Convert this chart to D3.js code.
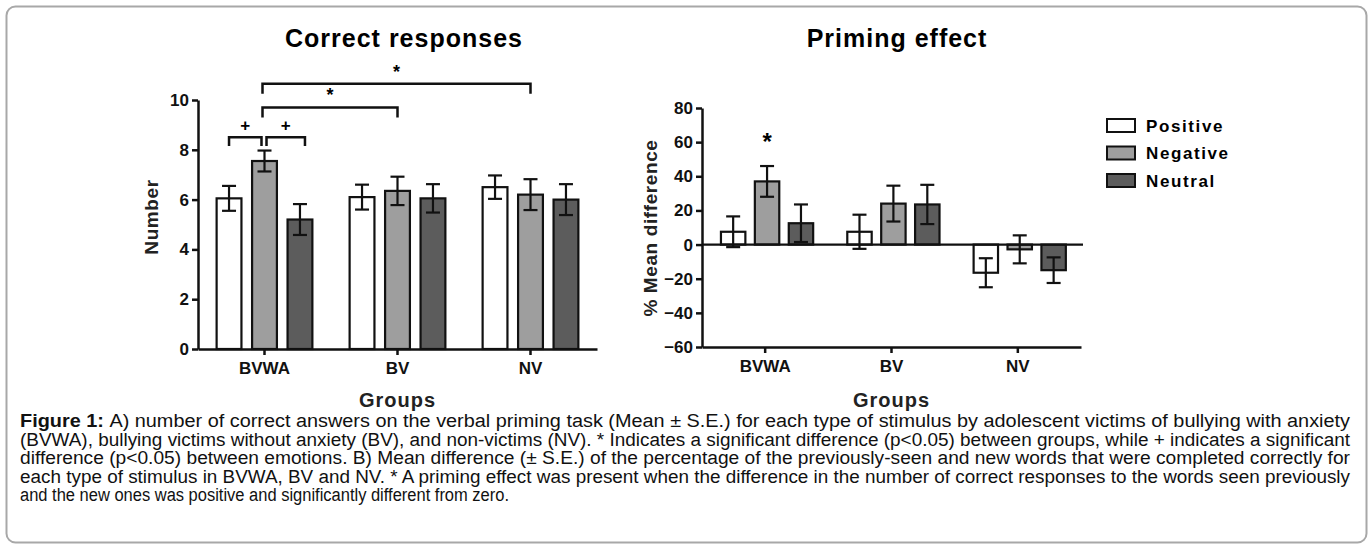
<!DOCTYPE html>
<html>
<head>
<meta charset="utf-8">
<script src="https://cdn.jsdelivr.net/npm/d3@7"></script>
<style>
  html, body { margin: 0; padding: 0; background: #fff; }
  svg { display: block; }
  .axis path, .axis line { stroke: #111; stroke-width: 2.5px; }
  .axis text { font-family: "Liberation Sans", Arial, sans-serif; font-weight: bold; font-size: 17px; fill: #111; }
  .caption { font-family: "Liberation Sans Narrow", "Arial Narrow", "Liberation Sans", Arial, sans-serif; font-size: 18px; fill: #111; }
</style>
</head>
<body>
<svg id="fig" width="1370" height="545"></svg>
<script>
  // groups and emotion series
  var groups = ["BVWA", "BV", "NV"];
  var series = ["Positive", "Negative", "Neutral"];
  var fills = ["#ffffff", "#9e9e9e", "#5c5c5c"];

  // Correct responses (Mean, S.E.) per group, one array per series
  var correctPositive = [6.05, 6.1, 6.5];
  var correctNegative = [7.55, 6.35, 6.2];
  var correctNeutral  = [5.2, 6.05, 6.0];
  var correctPositiveSE = [0.5, 0.5, 0.47];
  var correctNegativeSE = [0.42, 0.57, 0.62];
  var correctNeutralSE  = [0.62, 0.57, 0.62];
  var correctTicks = [0, 2, 4, 6, 8, 10];

  // Priming effect (% mean difference, S.E.)
  var primingPositive = [7.5, 7.5, -16.5];
  var primingNegative = [37, 24, -2.8];
  var primingNeutral  = [12.5, 23.5, -15];
  var primingPositiveSE = [9, 10, 8.5];
  var primingNegativeSE = [9, 10.5, 8.2];
  var primingNeutralSE  = [11, 11.5, 7.5];
  var primingTicks = [-60, -40, -20, 0, 20, 40, 60, 80];

  // significance brackets in left panel: [group, series] -> [group, series]
  var brackets = [
    {from: [0, 0], to: [0, 1], level: 8.5,  drop: 0.35, label: "+", dx1: 0,  dx2: -3},
    {from: [0, 1], to: [0, 2], level: 8.5,  drop: 0.35, label: "+", dx1: 2,  dx2: 5},
    {from: [0, 1], to: [1, 1], level: 9.7,  drop: 0.4,  label: "*", dx1: -2, dx2: 0},
    {from: [0, 1], to: [2, 1], level: 10.65, drop: 0.4, label: "*", dx1: -2, dx2: 0}
  ];

  var captionLines = [
    "A) number of correct answers on the verbal priming task (Mean ± S.E.) for each type of stimulus by adolescent victims of bullying with anxiety",
    "(BVWA), bullying victims without anxiety (BV), and non-victims (NV). * Indicates a significant difference (p<0.05) between groups, while + indicates a significant",
    "difference (p<0.05) between emotions. B) Mean difference (± S.E.) of the percentage of the previously-seen and new words that were completed correctly for",
    "each type of stimulus in BVWA, BV and NV. * A priming effect was present when the difference in the number of correct responses to the words seen previously",
    "and the new ones was positive and significantly different from zero."
  ];

  var svg = d3.select("#fig");
  var font = "'Liberation Sans', Arial, sans-serif";

  // outer frame
  svg.append("rect")
    .attr("x", 6.5).attr("y", 6.5).attr("width", 1360).attr("height", 536)
    .attr("rx", 9).attr("fill", "none").attr("stroke", "#a8a8a8").attr("stroke-width", 2);

  function toRows(a, b, c, sa, sb, sc) {
    return groups.map(function(g, i) {
      return {group: g, values: [
        {s: series[0], v: a[i], se: sa[i], k: 0},
        {s: series[1], v: b[i], se: sb[i], k: 1},
        {s: series[2], v: c[i], se: sc[i], k: 2}
      ]};
    });
  }

  function drawPanel(opt) {
    var x0 = d3.scaleBand().domain(groups).range(opt.xRange);
    var x1 = d3.scaleBand().domain(series)
      .range([x0.bandwidth() * opt.inner[0], x0.bandwidth() * opt.inner[1]])
      .paddingInner(opt.pad);
    var y = d3.scaleLinear().domain(opt.yDomain).range(opt.yRange);
    var g = svg.append("g");

    var grp = g.selectAll(".grp").data(opt.rows).enter().append("g")
      .attr("transform", function(d) { return "translate(" + x0(d.group) + ",0)"; });

    grp.selectAll("rect").data(function(d) { return d.values; }).enter().append("rect")
      .attr("x", function(d) { return x1(d.s); })
      .attr("y", function(d) { return y(Math.max(0, d.v)); })
      .attr("width", x1.bandwidth())
      .attr("height", function(d) { return Math.abs(y(d.v) - y(0)); })
      .attr("fill", function(d) { return fills[d.k]; })
      .attr("stroke", "#111").attr("stroke-width", 2.2);

    // error bars
    var eb = grp.selectAll(".eb").data(function(d) { return d.values; }).enter().append("g")
      .attr("stroke", "#111").attr("stroke-width", 2.2);
    var cx = function(d) { return x1(d.s) + x1.bandwidth() / 2; };
    eb.append("line")
      .attr("x1", cx).attr("x2", cx)
      .attr("y1", function(d) { return y(d.v - d.se); })
      .attr("y2", function(d) { return y(d.v + d.se); });
    [-1, 1].forEach(function(sgn) {
      eb.append("line")
        .attr("x1", function(d) { return cx(d) - 7; })
        .attr("x2", function(d) { return cx(d) + 7; })
        .attr("y1", function(d) { return y(d.v + sgn * d.se); })
        .attr("y2", function(d) { return y(d.v + sgn * d.se); });
    });

    // axes
    g.append("g").attr("class", "axis")
      .attr("transform", "translate(" + opt.xRange[0] + ",0)")
      .call(d3.axisLeft(y).tickValues(opt.ticks).tickSize(6).tickSizeOuter(0).tickPadding(3));
    g.append("g").attr("class", "axis")
      .attr("transform", "translate(0," + y(opt.yDomain[0]) + ")")
      .call(d3.axisBottom(x0).tickSize(6).tickSizeOuter(0).tickPadding(7));
    if (opt.zeroLine) {
      g.append("line")
        .attr("x1", opt.xRange[0]).attr("x2", opt.xRange[1] + 2)
        .attr("y1", y(0)).attr("y2", y(0))
        .attr("stroke", "#111").attr("stroke-width", 2.2);
    }

    // titles
    g.append("text")
      .attr("x", opt.titleX).attr("y", 47)
      .attr("text-anchor", "middle")
      .style("font-family", font).style("font-weight", "bold").style("font-size", "25px")
      .style("letter-spacing", "1px")
      .text(opt.title);
    g.append("text")
      .attr("x", d3.mean(opt.xRange)).attr("y", 407)
      .attr("text-anchor", "middle")
      .style("font-family", font).style("font-weight", "bold").style("font-size", "20px")
      .style("letter-spacing", "1px").attr("fill", "#222")
      .text("Groups");
    g.append("text")
      .attr("transform", "translate(" + opt.yLabelX + "," + opt.yLabelY + ") rotate(-90)")
      .attr("text-anchor", "middle")
      .style("font-family", font).style("font-weight", "bold").style("font-size", "19px")
      .style("letter-spacing", "0.6px").attr("fill", "#222")
      .text(opt.yLabel);

    return {x0: x0, x1: x1, y: y, g: g};
  }

  var left = drawPanel({
    rows: toRows(correctPositive, correctNegative, correctNeutral,
                 correctPositiveSE, correctNegativeSE, correctNeutralSE),
    xRange: [198, 597], yDomain: [0, 10], yRange: [349, 100],
    inner: [0.14, 0.86], pad: 0.3, ticks: correctTicks,
    title: "Correct responses", titleX: 404,
    yLabel: "Number", yLabelX: 158, yLabelY: 217, zeroLine: false
  });

  var right = drawPanel({
    rows: toRows(primingPositive, primingNegative, primingNeutral,
                 primingPositiveSE, primingNegativeSE, primingNeutralSE),
    xRange: [702, 1081], yDomain: [-60, 80], yRange: [347, 108],
    inner: [0.15, 0.88], pad: 0.28, ticks: primingTicks,
    title: "Priming effect", titleX: 897,
    yLabel: "% Mean difference", yLabelX: 657, yLabelY: 228, zeroLine: true
  });

  // significance brackets on left panel
  function barCenter(p, gi, si) {
    return p.x0(groups[gi]) + p.x1(series[si]) + p.x1.bandwidth() / 2;
  }
  brackets.forEach(function(b) {
    var xa = barCenter(left, b.from[0], b.from[1]) + b.dx1;
    var xb = barCenter(left, b.to[0], b.to[1]) + b.dx2;
    var yl = left.y(b.level), yd = left.y(b.level - b.drop);
    left.g.append("path")
      .attr("d", "M" + xa + "," + yd + "V" + yl + "H" + xb + "V" + yd)
      .attr("fill", "none").attr("stroke", "#111").attr("stroke-width", 2.5);
    left.g.append("text")
      .attr("x", (xa + xb) / 2).attr("y", yl - 6)
      .attr("text-anchor", "middle")
      .style("font-family", font).style("font-weight", "bold").style("font-size", b.label === "*" ? "18px" : "17px")
      .text(b.label);
  });

  // priming star over BVWA negative
  right.g.append("text")
    .attr("x", barCenter(right, 0, 1)).attr("y", right.y(primingNegative[0] + primingNegativeSE[0]) + 2 - 18)
    .attr("text-anchor", "middle")
    .style("font-family", font).style("font-weight", "bold").style("font-size", "24px")
    .text("*");

  // legend
  var legend = svg.append("g").attr("transform", "translate(1107,119)");
  series.forEach(function(s, i) {
    legend.append("rect")
      .attr("x", 0).attr("y", i * 27.5).attr("width", 28).attr("height", 13)
      .attr("fill", fills[i]).attr("stroke", "#111").attr("stroke-width", 2);
    legend.append("text")
      .attr("x", 39).attr("y", i * 27.5 + 12.5)
      .style("font-family", font).style("font-weight", "bold").style("font-size", "17px")
      .style("letter-spacing", "1.6px")
      .text(s);
  });

  // caption, justified by stretching each line to the column width
  var cap = svg.append("g");
  captionLines.forEach(function(line, i) {
    var t = cap.append("text")
      .attr("class", "caption")
      .attr("x", 20).attr("y", 427 + i * 18.6)
      .attr("lengthAdjust", "spacingAndGlyphs")
      .attr("textLength", i < 4 ? 1330 : 489);
    if (i === 0) {
      t.append("tspan").style("font-weight", "bold").text("Figure 1: ");
    }
    t.append("tspan").text(line);
  });
</script>
</body>
</html>
